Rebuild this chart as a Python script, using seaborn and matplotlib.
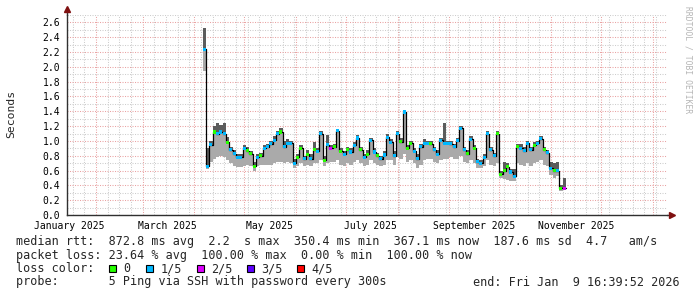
import numpy as np
import pandas as pd
import matplotlib
matplotlib.use("Agg")
import matplotlib.pyplot as plt
import matplotlib.dates as mdates
from matplotlib.ticker import MultipleLocator, FormatStrFormatter
from matplotlib.patches import Rectangle
import seaborn as sns

# ---------------- data ----------------
start_date = "2025-04-06"
step_days = 2
median_s = [2.24, 0.66, 0.95, 1.12, 1.10, 1.12, 1.10, 0.98, 0.88, 0.83,
            0.78, 0.78, 0.90, 0.87, 0.83, 0.66, 0.78, 0.80, 0.90, 0.92,
            0.96, 1.01, 1.10, 1.12, 0.92, 0.97, 0.97, 0.70, 0.78, 0.90,
            0.76, 0.82, 0.76, 0.88, 0.86, 1.10, 0.74, 0.95, 0.90, 0.92,
            1.14, 0.86, 0.82, 0.88, 0.85, 0.94, 1.04, 0.88, 0.78, 0.82,
            1.01, 0.85, 0.80, 0.76, 0.81, 1.05, 0.98, 0.80, 1.10, 0.99,
            1.39, 0.90, 0.97, 0.86, 0.76, 0.92, 0.97, 0.97, 0.96, 0.88,
            0.82, 1.01, 0.97, 0.97, 0.96, 0.92, 1.00, 1.17, 0.88, 0.83,
            1.02, 0.90, 0.72, 0.70, 0.78, 1.10, 0.88, 0.80, 1.10, 0.55,
            0.60, 0.65, 0.58, 0.52, 0.92, 0.90, 0.87, 0.97, 0.88, 0.94,
            0.97, 1.03, 0.88, 0.84, 0.63, 0.60, 0.60, 0.36, 0.36]
smoke_lo = [1.95, 0.62, 0.72, 0.75, 0.78, 0.80, 0.78, 0.74, 0.70, 0.66,
            0.65, 0.65, 0.66, 0.67, 0.66, 0.60, 0.66, 0.67, 0.68, 0.68,
            0.68, 0.70, 0.72, 0.72, 0.70, 0.72, 0.70, 0.64, 0.66, 0.70,
            0.66, 0.68, 0.66, 0.70, 0.70, 0.74, 0.66, 0.70, 0.72, 0.72,
            0.74, 0.68, 0.66, 0.70, 0.68, 0.72, 0.74, 0.70, 0.66, 0.68,
            0.74, 0.70, 0.68, 0.66, 0.68, 0.74, 0.74, 0.68, 0.78, 0.76,
            0.82, 0.72, 0.74, 0.70, 0.64, 0.68, 0.74, 0.76, 0.76, 0.72,
            0.70, 0.74, 0.76, 0.76, 0.78, 0.76, 0.76, 0.80, 0.72, 0.70,
            0.74, 0.70, 0.64, 0.64, 0.66, 0.74, 0.68, 0.66, 0.70, 0.50,
            0.48, 0.47, 0.46, 0.46, 0.70, 0.68, 0.66, 0.70, 0.66, 0.70,
            0.72, 0.74, 0.68, 0.66, 0.54, 0.50, 0.52, 0.33, 0.34]
smoke_hi = [2.53, 0.90, 1.00, 1.20, 1.24, 1.22, 1.24, 1.05, 0.92, 0.88,
            0.82, 0.82, 0.94, 0.92, 0.86, 0.72, 0.82, 0.84, 0.94, 0.96,
            1.00, 1.06, 1.14, 1.18, 1.00, 1.02, 1.00, 0.76, 0.82, 0.94,
            0.80, 0.88, 0.82, 0.98, 0.90, 1.14, 0.80, 1.08, 0.94, 0.96,
            1.16, 0.90, 0.86, 0.92, 0.90, 0.98, 1.08, 0.92, 0.82, 0.88,
            1.04, 0.90, 0.84, 0.80, 0.86, 1.10, 1.02, 0.86, 1.14, 1.04,
            1.42, 0.94, 1.00, 0.90, 0.82, 0.96, 1.02, 1.00, 1.00, 0.92,
            0.88, 1.04, 1.24, 1.00, 1.00, 0.96, 1.04, 1.20, 0.92, 0.88,
            1.06, 0.94, 0.76, 0.74, 0.82, 1.14, 0.92, 0.84, 1.14, 0.60,
            0.72, 0.70, 0.62, 0.62, 0.96, 0.96, 0.92, 1.00, 0.92, 0.98,
            1.00, 1.06, 0.92, 0.88, 0.72, 0.70, 0.72, 0.40, 0.50]
loss = [1, 1, 1, 0, 1, 1, 1, 0, 1, 1,
        1, 1, 1, 0, 0, 0, 1, 0, 1, 1,
        1, 1, 1, 0, 1, 1, 1, 1, 0, 0,
        1, 0, 1, 0, 1, 1, 0, 1, 2, 0,
        1, 0, 1, 0, 1, 1, 1, 0, 1, 0,
        1, 1, 0, 1, 1, 1, 1, 1, 1, 0,
        1, 0, 0, 1, 1, 1, 1, 1, 0, 1,
        1, 1, 1, 1, 1, 1, 1, 1, 1, 0,
        1, 0, 1, 1, 1, 1, 1, 1, 0, 0,
        0, 0, 1, 1, 0, 1, 1, 1, 1, 0,
        1, 1, 0, 1, 1, 0, 1, 0, 2]
loss_labels = ["0", "1/5", "2/5", "3/5", "4/5"]
loss_colors = ["#26ff00", "#00b8ff", "#dd00ff", "#5e00ff", "#ff0000"]
month_labels = ["January 2025", "March 2025", "May 2025", "July 2025",
                "September 2025", "November 2025"]
month_label_dates = ["2025-01-16", "2025-03-16", "2025-05-16", "2025-07-16",
                     "2025-09-16", "2025-11-16"]
range_start = "2025-01-14 16:39:52"
range_end = "2026-01-09 16:39:52"

line_median = "median rtt:  872.8 ms avg  2.2  s max  350.4 ms min  367.1 ms now  187.6 ms sd  4.7   am/s"
line_loss = "packet loss: 23.64 % avg  100.00 % max  0.00 % min  100.00 % now"
line_color = "loss color:"
line_probe = "probe:       5 Ping via SSH with password every 300s"
line_end = "end: Fri Jan  9 16:39:52 2026"

# ---------------- style ----------------
sns.set_style("white")
plt.rcParams["font.family"] = ["DejaVu Sans Mono", "DejaVu Sans"]

W, H = 697, 297
fig = plt.figure(figsize=(W / 100, H / 100), dpi=100)
fig.patch.set_facecolor("white")
ax = fig.add_axes([67 / W, 82 / H, 600 / W, 200 / H])
ax.set_facecolor("white")

t0, t1 = pd.Timestamp(range_start), pd.Timestamp(range_end)
ax.set_xlim(t0, t1)
ax.set_ylim(0, 2.7)

axis_col = "#303030"
arrow_col = "#7f1010"
grid_minor = "#cdcdcd"
grid_major = "#e9a3a3"

ax.xaxis.set_major_locator(mdates.MonthLocator())
ax.xaxis.set_minor_locator(mdates.WeekdayLocator(byweekday=mdates.SA))
ax.yaxis.set_major_locator(MultipleLocator(0.2))
ax.yaxis.set_minor_locator(MultipleLocator(0.1))
ax.yaxis.set_major_formatter(FormatStrFormatter("%.1f"))
ax.set_axisbelow(True)
ax.grid(which="minor", color=grid_minor, linestyle=(0, (1, 1.4)), linewidth=0.75)
ax.grid(which="major", color=grid_major, linestyle=(0, (1, 1.4)), linewidth=0.75)

ax.tick_params(axis="x", which="major", length=2.5, width=0.8, color=grid_major,
               direction="out", labelbottom=False)
ax.tick_params(axis="x", which="minor", length=2, width=0.8, color=grid_minor,
               direction="out", labelbottom=False)
ax.tick_params(axis="y", which="major", length=2.2, width=0.8, color=axis_col,
               direction="out", pad=2.8, labelsize=7, labelcolor="black")
ax.tick_params(axis="y", which="minor", length=0)

for s in ["top", "right"]:
    ax.spines[s].set_visible(False)
for s in ["left", "bottom"]:
    ax.spines[s].set_color(axis_col)
    ax.spines[s].set_linewidth(1.0)

# ---------------- smoke + median ----------------
dates = pd.date_range(start_date, periods=len(median_s), freq=f"{step_days}D")
edges = dates.append(pd.DatetimeIndex([dates[-1] + pd.Timedelta(days=step_days)]))
med = np.asarray(median_s)
lo = np.asarray(smoke_lo)
hi = np.asarray(smoke_hi)
ext = lambda a: np.append(a, a[-1])

ax.fill_between(edges, ext(lo), ext(med), step="post", color="#aaaaaa", linewidth=0, zorder=2)
ax.fill_between(edges, ext(med), ext(hi), step="post", color="#5c5c5c", linewidth=0, zorder=2)

line_df = pd.DataFrame({"date": edges, "median": ext(med)})
sns.lineplot(data=line_df, x="date", y="median", drawstyle="steps-post", color="black",
             linewidth=0.9, errorbar=None, sort=False, ax=ax, zorder=3)

pt_df = pd.DataFrame({"mid": dates + pd.Timedelta(days=step_days / 2),
                      "median": med,
                      "loss": [loss_labels[i] for i in loss]})
sns.scatterplot(data=pt_df, x="mid", y="median", hue="loss", hue_order=loss_labels,
                palette=dict(zip(loss_labels, loss_colors)), marker="s", s=5,
                linewidth=0, legend=False, ax=ax, zorder=4)
ax.set_xlabel("")
ax.set_ylabel("")

# axis arrows
ax.plot([1, 1.009], [0, 0], transform=ax.transAxes, color=axis_col, lw=1.0, clip_on=False)
ax.plot([1.009], [0], transform=ax.transAxes, marker=">", ms=4.5, color=arrow_col,
        mec=arrow_col, clip_on=False)
ax.plot([0, 0], [1, 1.03], transform=ax.transAxes, color=axis_col, lw=1.0, clip_on=False)
ax.plot([0], [1.03], transform=ax.transAxes, marker="^", ms=4.5, color=arrow_col,
        mec=arrow_col, clip_on=False)

# month labels
xt = ax.get_xaxis_transform()
for lab, d in zip(month_labels, month_label_dates):
    ax.text(pd.Timestamp(d), -0.055, lab, transform=xt, ha="center", va="center",
            fontsize=7, color="black", clip_on=False)

# ---------------- texts ----------------
def fy(ypx):
    return 1 - ypx / H

fig.text(11 / W, fy(113.5), "Seconds", rotation=90, ha="center", va="center", fontsize=8.2)
fig.text(688 / W, fy(60), "RRDTOOL / TOBI OETIKER", rotation=270, ha="center", va="center",
         fontsize=5.8, color="#b5b5b5")

fs = 8.5
fig.text(16 / W, fy(241), line_median, ha="left", va="center", fontsize=fs)
fig.text(16 / W, fy(255), line_loss, ha="left", va="center", fontsize=fs)
fig.text(16 / W, fy(268.5), line_color, ha="left", va="center", fontsize=fs)
fig.text(16 / W, fy(282), line_probe, ha="left", va="center", fontsize=fs)
fig.text(680 / W, fy(282), line_end, ha="right", va="center", fontsize=fs)

box_x = [108.5, 146, 196.5, 246.5, 296.5]
bs = 7.3
for bx, lab, col in zip(box_x, loss_labels, loss_colors):
    fig.add_artist(Rectangle((bx / W, fy(268.5 + bs / 2)), bs / W, bs / H,
                             transform=fig.transFigure, facecolor=col,
                             edgecolor="black", linewidth=0.8))
    fig.text((bx + 14.5) / W, fy(268.5), lab, ha="left", va="center", fontsize=fs)

fig.savefig("out.png", dpi=100, facecolor="white")
